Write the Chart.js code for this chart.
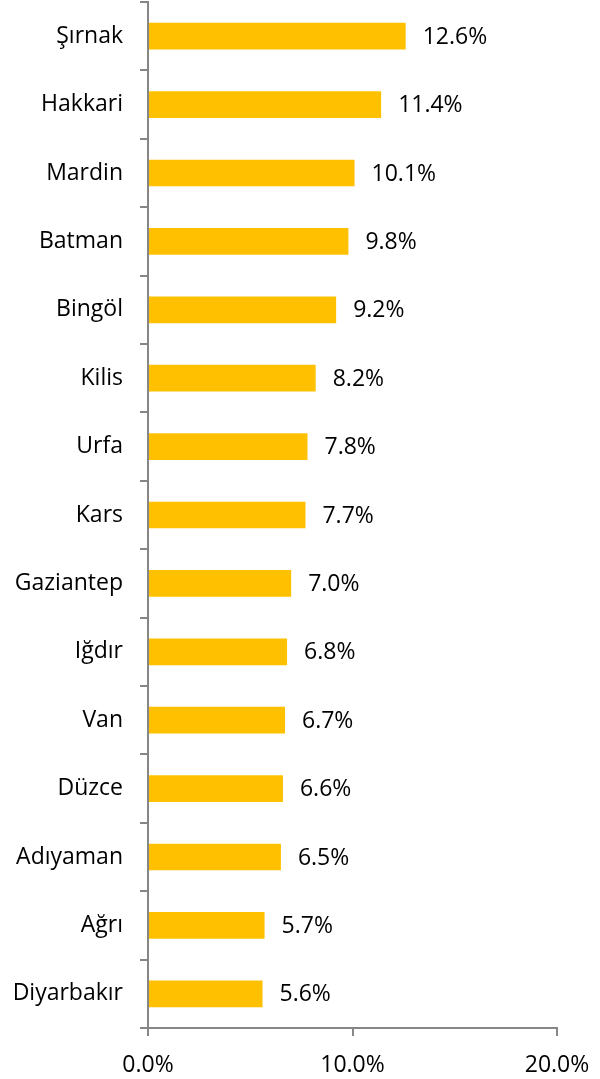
<!DOCTYPE html>
<html>
<head>
<meta charset="utf-8">
<script src="https://cdn.jsdelivr.net/npm/chart.js@4"></script>
<style>
html,body{margin:0;padding:0;background:#fff;}
#wrap{width:600px;height:1079px;position:relative;}
</style>
</head>
<body>
<div id="wrap"><canvas id="c" width="600" height="1079"></canvas></div>
<script>
const categories = ["Şırnak","Hakkari","Mardin","Batman","Bingöl","Kilis","Urfa","Kars","Gaziantep","Iğdır","Van","Düzce","Adıyaman","Ağrı","Diyarbakır"];
const values = [12.6,11.4,10.1,9.8,9.2,8.2,7.8,7.7,7.0,6.8,6.7,6.6,6.5,5.7,5.6];
const xTickValues = [0,10,20];

const FONT = "'Open Sans', sans-serif";
const AXIS = '#868686';

const valueLabels = {
  id: 'valueLabels',
  afterDatasetsDraw(chart) {
    const ctx = chart.ctx;
    const meta = chart.getDatasetMeta(0);
    ctx.save();
    ctx.font = "23px " + FONT;
    ctx.fillStyle = '#000';
    ctx.textAlign = 'left';
    ctx.textBaseline = 'middle';
    meta.data.forEach((bar, i) => {
      ctx.fillText(values[i].toFixed(1) + '%', bar.x + 17, bar.y + 1);
    });
    ctx.restore();
  }
};

new Chart(document.getElementById('c'), {
  type: 'bar',
  data: {
    labels: categories,
    datasets: [{
      data: values,
      backgroundColor: '#FFC000',
      borderWidth: 0,
      barPercentage: 0.39,
      categoryPercentage: 1.0
    }]
  },
  options: {
    indexAxis: 'y',
    responsive: false,
    animation: false,
    layout: { padding: { top: 2, right: 43, left: 0, bottom: 0 } },
    plugins: { legend: { display: false }, tooltip: { enabled: false } },
    scales: {
      x: {
        min: 0, max: 20,
        afterBuildTicks: (scale) => { scale.ticks = xTickValues.map(v => ({ value: v })); },
        ticks: {
          font: { family: FONT, size: 23 },
          color: '#000',
          padding: 16,
          callback: (v) => Number(v).toFixed(1) + '%'
        },
        grid: { drawOnChartArea: false, drawTicks: true, tickLength: 8, color: AXIS, lineWidth: 2 },
        border: { display: true, color: AXIS, width: 2 },
        afterFit: (scale) => { scale.height = 51; scale.paddingLeft = 0; scale.paddingRight = 0; }
      },
      y: {
        ticks: {
          font: { family: FONT, size: 23 },
          color: '#000',
          padding: 17
        },
        grid: { drawOnChartArea: false, drawTicks: true, tickLength: 8, color: AXIS, lineWidth: 2, offset: true },
        border: { display: true, color: AXIS, width: 2 },
        afterFit: (scale) => { scale.width = 148; scale.paddingTop = 0; scale.paddingBottom = 0; }
      }
    }
  },
  plugins: [valueLabels]
});
</script>
</body>
</html>
